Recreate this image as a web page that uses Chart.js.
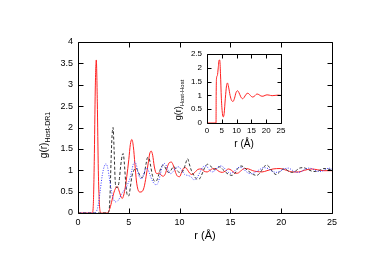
<!DOCTYPE html>
<html>
<head>
<meta charset="utf-8">
<script src="https://cdn.jsdelivr.net/npm/chart.js@4/dist/chart.umd.min.js"></script>
<style>
  html, body { margin: 0; padding: 0; background: #fff; }
  #wrap { position: relative; width: 386px; height: 273px; }
  #main { position: absolute; left: 0; top: 0; }
  #inset { position: absolute; left: 160px; top: 40px; }
</style>
</head>
<body>
<div id="wrap">
  <canvas id="main" width="386" height="273"></canvas>
  <canvas id="inset" width="140" height="120"></canvas>
</div>
<script>
// ---- Data ----
const xTicks = [0, 5, 10, 15, 20, 25];
const yTicksMain = [0, 0.5, 1, 1.5, 2, 2.5, 3, 3.5, 4];
const yTicksInset = [0, 0.5, 1, 1.5, 2, 2.5];

// Host–DR1, red solid
const redR = [0,1.4,1.5,1.6,1.7,1.8,1.9,2.0,2.1,2.2,2.4,2.9,3.1,3.3,3.5,3.7,3.85,4.0,4.2,4.35,4.5,4.65,4.8,5.0,5.15,5.3,5.45,5.6,5.75,5.9,6.1,6.3,6.5,6.7,6.9,7.05,7.2,7.35,7.5,7.65,7.8,8.0,8.2,8.4,8.6,8.8,9.0,9.2,9.4,9.6,9.8,10.0,10.2,10.4,10.6,10.8,11.0,11.2,11.5,11.8,12.1,12.4,12.7,13.0,13.3,13.6,13.9,14.2,14.5,14.8,15.1,15.4,15.7,16.0,16.4,16.8,17.2,17.6,18.1,18.6,19.2,19.9,20.5,21.1,21.7,22.3,23.0,23.6,24.2,25];
const redG = [0,0,0.15,1.2,2.9,3.58,2.6,1.0,0.25,0.02,0,0,0.08,0.25,0.45,0.58,0.62,0.55,0.4,0.34,0.42,0.6,0.85,1.25,1.6,1.72,1.55,1.15,0.75,0.55,0.49,0.5,0.6,0.85,1.15,1.38,1.45,1.35,1.1,0.95,0.92,0.94,0.88,0.86,0.92,1.08,1.18,1.19,1.1,0.95,0.86,0.85,0.95,1.05,1.06,1.0,0.93,0.9,0.95,1.02,1.03,0.98,0.96,1.0,1.04,1.02,0.97,0.95,0.98,1.03,1.0,0.94,0.93,0.98,1.04,1.03,0.99,0.97,0.96,0.99,1.03,1.04,1.0,0.96,0.96,1.0,1.03,1.01,0.99,0.99];

// Host–DR1, black dashed
const blackR = [0,2.9,3.05,3.15,3.25,3.35,3.45,3.55,3.65,3.75,3.9,4.05,4.2,4.35,4.45,4.55,4.7,4.85,5.0,5.15,5.3,5.5,5.7,5.9,6.1,6.3,6.5,6.7,6.85,7.0,7.15,7.35,7.55,7.75,7.95,8.15,8.35,8.55,8.75,8.95,9.15,9.4,9.6,9.8,10.0,10.2,10.45,10.65,10.8,10.95,11.15,11.4,11.65,11.9,12.15,12.45,12.75,13.05,13.35,13.65,13.95,14.25,14.55,14.85,15.15,15.45,15.75,16.05,16.35,16.65,16.95,17.25,17.6,17.95,18.3,18.6,18.9,19.2,19.5,19.8,20.1,20.4,20.7,21.0,21.4,21.8,22.2,22.6,23.0,23.4,23.8,24.2,24.6,25];
const blackG = [0,0,0.05,0.4,1.2,1.8,2.0,1.5,0.8,0.6,0.6,0.75,1.1,1.35,1.39,1.2,0.7,0.42,0.4,0.6,0.85,1.0,1.05,0.98,0.87,0.83,0.9,1.15,1.3,1.28,1.1,0.85,0.74,0.76,0.9,1.05,1.12,1.08,0.98,0.95,1.0,1.08,1.05,0.98,0.95,0.95,1.05,1.2,1.27,1.15,1.0,0.88,0.8,0.79,0.88,1.05,1.14,1.1,1.02,1.05,1.08,1.02,0.95,0.9,0.88,0.93,1.05,1.1,1.07,1.0,0.95,0.9,0.88,0.95,1.08,1.12,1.05,0.95,0.9,0.95,1.02,1.03,0.98,0.95,0.98,1.05,1.06,1.02,0.98,0.97,1.0,1.04,1.03,1.0];

// Host–DR1, blue dotted
const blueR = [0,1.6,1.8,2.0,2.2,2.4,2.6,2.75,2.9,3.1,3.3,3.5,3.7,3.9,4.1,4.3,4.5,4.7,4.9,5.1,5.3,5.45,5.6,5.75,5.9,6.1,6.25,6.45,6.65,6.8,7.0,7.2,7.45,7.7,7.9,8.1,8.3,8.5,8.7,8.9,9.1,9.3,9.6,9.9,10.2,10.5,10.8,11.1,11.4,11.7,12.0,12.3,12.6,12.9,13.2,13.5,13.8,14.1,14.4,14.7,15.0,15.3,15.6,15.9,16.2,16.5,16.8,17.1,17.5,17.9,18.3,18.7,19.1,19.5,19.9,20.3,20.7,21.1,21.5,21.9,22.3,22.7,23.1,23.5,23.9,24.3,24.7,25];
const blueG = [0,0,0.03,0.2,0.55,0.9,1.1,1.15,1.08,0.8,0.5,0.32,0.26,0.28,0.35,0.45,0.52,0.58,0.68,0.8,1.0,1.15,1.19,1.12,0.95,0.82,0.8,0.9,1.03,1.05,0.95,0.82,0.7,0.66,0.72,0.9,1.1,1.16,1.1,0.98,0.92,0.95,1.05,1.08,1.0,0.9,0.88,0.85,0.78,0.82,0.95,1.08,1.1,1.02,0.96,1.0,1.08,1.1,1.05,0.97,0.93,0.96,1.03,1.07,1.05,0.98,0.93,0.92,0.96,1.02,1.06,1.04,0.98,0.95,0.98,1.03,1.05,1.0,0.95,0.96,1.02,1.05,1.03,0.98,0.97,1.01,1.05,1.02];

// Inset: Host–Host, red solid
const insetR = [0,3.05,3.1,3.2,3.5,3.8,4.1,4.3,4.55,4.85,5.2,5.5,5.8,6.2,6.6,6.9,7.3,7.8,8.3,8.8,9.3,9.8,10.3,10.8,11.4,12.0,12.5,13.2,13.8,14.4,15.0,15.5,16.2,16.9,17.5,18.2,18.9,19.6,20.3,21.0,22,23,24,25];
const insetG = [0,0,1.0,1.6,1.72,2.0,2.28,2.28,1.8,0.9,0.35,0.22,0.35,0.9,1.35,1.45,1.3,1.0,0.82,0.78,0.9,1.1,1.17,1.1,0.95,0.88,0.92,1.04,1.08,1.03,0.96,0.94,0.99,1.05,1.03,0.98,0.97,1.0,1.02,1.01,0.99,1.0,1.01,1.0];

// ---- Helpers ----
const FONT = '"Liberation Sans", Arial, Helvetica, sans-serif';
const pts = (xs, ys) => xs.map((x, i) => ({ x: x, y: ys[i] }));

function framePlugin(tickLen, titles) {
  return {
    id: 'frame',
    afterDraw(chart) {
      const ctx = chart.ctx, a = chart.chartArea;
      const xs = chart.scales.x, ys = chart.scales.y;
      ctx.save();
      ctx.strokeStyle = '#000';
      ctx.lineWidth = 1;
      ctx.beginPath();
      const L = Math.round(a.left) + 0.5, R = Math.round(a.right) + 0.5;
      const T = Math.round(a.top) + 0.5, B = Math.round(a.bottom) + 0.5;
      ctx.rect(L, T, R - L, B - T);
      xs.ticks.forEach(t => {
        const px = Math.round(xs.getPixelForValue(t.value)) + 0.5;
        ctx.moveTo(px, B); ctx.lineTo(px, B - tickLen);
        ctx.moveTo(px, T); ctx.lineTo(px, T + tickLen);
      });
      ys.ticks.forEach(t => {
        const py = Math.round(ys.getPixelForValue(t.value)) + 0.5;
        ctx.moveTo(L, py); ctx.lineTo(L + tickLen, py);
        ctx.moveTo(R, py); ctx.lineTo(R - tickLen, py);
      });
      ctx.stroke();
      // titles
      ctx.fillStyle = '#000';
      const xt = titles.x;
      ctx.font = xt.size + 'px ' + FONT;
      ctx.textAlign = 'center';
      ctx.textBaseline = 'alphabetic';
      ctx.fillText(xt.text, (a.left + a.right) / 2, xt.baseline);
      const yt = titles.y;
      ctx.font = yt.size + 'px ' + FONT;
      const w1 = ctx.measureText(yt.main).width;
      ctx.font = yt.subSize + 'px ' + FONT;
      const w2 = ctx.measureText(yt.sub).width;
      const w = w1 + w2;
      ctx.translate(yt.x, yt.cy);
      ctx.rotate(-Math.PI / 2);
      ctx.textAlign = 'left';
      ctx.font = yt.size + 'px ' + FONT;
      ctx.fillText(yt.main, -w / 2, 0);
      ctx.font = yt.subSize + 'px ' + FONT;
      ctx.fillText(yt.sub, -w / 2 + w1, yt.subDrop);
      ctx.restore();
    }
  };
}

function axisOpts(min, max, tickVals, size, fixed, pad, isX) {
  return {
    type: 'linear',
    min: min, max: max,
    afterBuildTicks: s => { s.ticks = tickVals.map(v => ({ value: v })); },
    afterFit: s => { if (isX) s.height = fixed; else s.width = fixed; },
    grid: { display: false, drawTicks: false, tickLength: 0 },
    border: { display: false },
    ticks: {
      color: '#000',
      font: { family: FONT, size: size },
      padding: pad,
      maxRotation: 0,
      autoSkip: false,
      callback: v => String(v)
    }
  };
}

// ---- Main chart ----
new Chart(document.getElementById('main'), {
  type: 'line',
  data: {
    datasets: [
      { data: pts(blueR, blueG), borderColor: '#3c3cff', borderWidth: 1, borderDash: [1, 1.5], pointRadius: 0, fill: false, cubicInterpolationMode: 'monotone' },
      { data: pts(blackR, blackG), borderColor: '#333', borderWidth: 1, borderDash: [3, 2], pointRadius: 0, fill: false, cubicInterpolationMode: 'monotone' },
      { data: pts(redR, redG), borderColor: '#ff2020', borderWidth: 1, pointRadius: 0, fill: false, cubicInterpolationMode: 'monotone' }
    ]
  },
  options: {
    responsive: false,
    animation: false,
    events: [],
    layout: { padding: { left: 0, right: 54, top: 42, bottom: 40 } },
    plugins: { legend: { display: false }, tooltip: { enabled: false } },
    scales: {
      x: axisOpts(0, 25, xTicks, 9, 20, 4, true),
      y: axisOpts(0, 4, yTicksMain, 9, 78, 5, false)
    }
  },
  plugins: [framePlugin(5, {
    x: { text: 'r (Å)', size: 11, baseline: 239 },
    y: { main: 'g(r)', sub: 'Host-DR1', size: 10, subSize: 7, x: 47, cy: 135, subDrop: 3 }
  })]
});

// ---- Inset chart ----
new Chart(document.getElementById('inset'), {
  type: 'line',
  data: {
    datasets: [
      { data: pts(insetR, insetG), borderColor: '#ff2020', borderWidth: 1, pointRadius: 0, fill: false, cubicInterpolationMode: 'monotone' }
    ]
  },
  options: {
    responsive: false,
    animation: false,
    events: [],
    layout: { padding: { left: 0, right: 19, top: 14, bottom: 19 } },
    plugins: { legend: { display: false }, tooltip: { enabled: false } },
    scales: {
      x: axisOpts(0, 25, xTicks, 8, 18, 3, true),
      y: axisOpts(0, 2.5, yTicksInset, 8, 47, 5, false)
    }
  },
  plugins: [framePlugin(4, {
    x: { text: 'r (Å)', size: 10, baseline: 107 },
    y: { main: 'g(r)', sub: 'Host-Host', size: 9, subSize: 6, x: 21, cy: 60, subDrop: 3 }
  })]
});
</script>
</body>
</html>
